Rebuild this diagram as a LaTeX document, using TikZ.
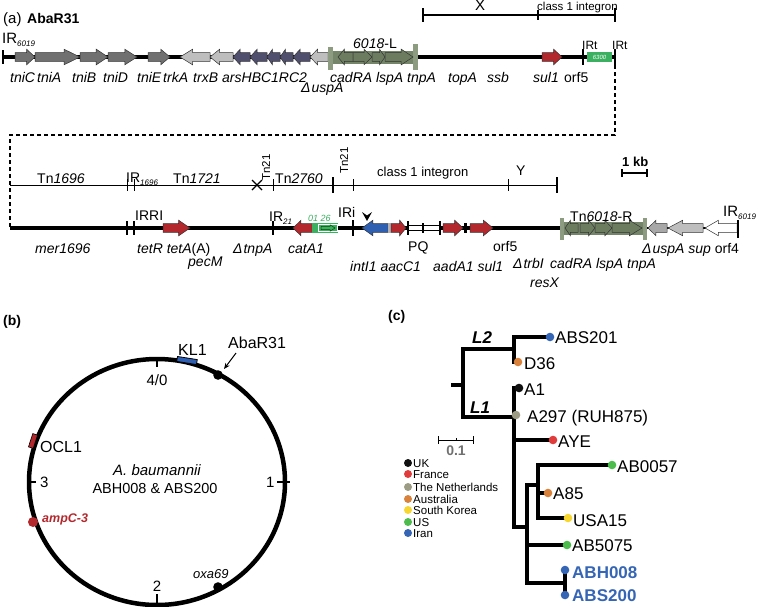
\documentclass[tikz,border=0pt]{standalone}
\usepackage{fontspec}
\setmainfont{Liberation Sans}
\usetikzlibrary{arrows.meta}
\definecolor{tnigray}{HTML}{707070}
\definecolor{lgray}{HTML}{BEBEBE}
\definecolor{mgray}{HTML}{A8A8A8}
\definecolor{navy}{HTML}{50506E}
\definecolor{oliveband}{HTML}{75856A}
\definecolor{olivebar}{HTML}{8D9C80}
\definecolor{olivearr}{HTML}{6C7C5F}
\definecolor{genered}{HTML}{B3282D}
\definecolor{geneblue}{HTML}{2F5FB0}
\definecolor{boxgreen}{HTML}{3BB060}
\definecolor{cUK}{HTML}{111111}
\definecolor{cFR}{HTML}{E03C3C}
\definecolor{cNL}{HTML}{9C9C84}
\definecolor{cAU}{HTML}{D8823C}
\definecolor{cKR}{HTML}{F7D630}
\definecolor{cUS}{HTML}{4CBC4C}
\definecolor{cIR}{HTML}{3565B5}
\definecolor{sbgray}{HTML}{707070}
\newcommand\fsz[1]{\fontsize{#1}{#1}\selectfont}
\newcommand\gar[4]{%
 \pgfmathsetmacro\gLen{#2-(#1)}%
 \pgfmathsetmacro\gHd{min(0.42*abs(\gLen),16)*ifthenelse(\gLen>0,1,-1)}%
 \pgfmathsetmacro\gMid{#2-(\gHd)}%
 \filldraw[fill=#4, draw=black!80, line width=0.5pt] (#1,#3-4.3) -- (\gMid,#3-4.3) -- (\gMid,#3-7.8) -- (#2,#3) -- (\gMid,#3+7.8) -- (\gMid,#3+4.3) -- (#1,#3+4.3) -- cycle;}
\newcommand\irsub[1]{\raisebox{-3pt}{\fsz{8}\itshape #1}}
\tikzset{
 lab/.style={inner sep=0, anchor=base west, font=\fsz{14}},
 gl/.style={lab, font=\fsz{14}\itshape},
 tl/.style={lab, font=\fsz{17}},
 ctr/.style={inner sep=0, anchor=base},
 tree/.style={line width=3.2pt, line cap=rect},
 tick/.style={line width=1.6pt},
}
\begin{document}
\begin{tikzpicture}[x=1pt,y=-1pt]
\useasboundingbox (0,0) rectangle (762,606);
% ---------------- panel (a), top row
\node[lab, font=\fsz{15}] (pa) at (3,23) {(a)};
\node[lab, font=\fsz{14}\bfseries] (abar) at (27,23) {AbaR31};
\node[lab, font=\fsz{15}] (ir1) at (2,43.5) {IR\irsub{6019}};
\draw[line width=3.3pt] (3,57) -- (615,57);
\draw[line width=1.8pt] (3,50) -- (3,64);
\gar{15}{35}{57}{tnigray}
\gar{35}{80}{57}{tnigray}
\gar{80}{108}{57}{tnigray}
\gar{108}{137}{57}{tnigray}
\gar{148}{170}{57}{tnigray}
\gar{210}{180}{57}{lgray}
\gar{233}{210}{57}{lgray}
\gar{250}{233}{57}{navy}
\gar{267}{250}{57}{navy}
\gar{280}{267}{57}{navy}
\gar{293}{280}{57}{navy}
\gar{310}{293}{57}{navy}
\gar{328}{310}{57}{lgray}
\fill[oliveband] (331,51) rectangle (414,64);
\fill[olivebar] (328,47) rectangle (333,70);
\fill[olivebar] (413,44) rectangle (418,70);
\gar{353}{338}{57}{olivearr}
\gar{353}{372}{57}{olivearr}
\gar{372}{385}{57}{olivearr}
\gar{385}{413}{57}{olivearr}
\gar{542}{562}{57}{genered}
\draw[tick] (583,49) -- (583,65);
\draw[tick] (615,49) -- (615,65);
\fill[boxgreen] (587,52) rectangle (612,62);
\node[inner sep=0, font=\fsz{6}\itshape, text=white] (isb) at (599.5,57) {6300};
\node[lab, font=\fsz{12}] (irt1) at (582,49) {IRt};
\node[lab, font=\fsz{12}] (irt2) at (612,49) {IRt};
\node[lab, font=\fsz{14}\itshape] (l6018) at (353,48) {6018\upshape-L};
\foreach \x/\t [count=\i] in {10/tniC,37/tniA,72/tniB,103/tniD,137/tniE,163/trkA,193/trxB,222/arsHBC1RC2,330/cadRA lspA tnpA,448/topA,487/ssb,533/sul1}
  \node[gl] (g\i) at (\x,82) {\t};
\node[lab] (orf5a) at (564,82) {orf5};
\node[gl] (uspa) at (301,92) {Δ\kern1pt uspA};
% scale X
\draw[line width=1.2pt] (423,15) -- (615,15);
\draw[line width=2pt] (423,8) -- (423,22);
\draw[line width=1.2pt] (538,10) -- (538,20);
\draw[line width=2pt] (615,8) -- (615,22);
\node[ctr, font=\fsz{15}] (xl) at (480,10.5) {X};
\node[lab, font=\fsz{11.5}] (ci1) at (537,10.5) {class 1 integron};
% dashed link
\draw[line width=1.3pt, dash pattern=on 4pt off 3pt] (615,65) -- (615,135) -- (10,135) -- (10,228);
% ---------------- panel (a), second row
\draw[line width=1pt] (10,185) -- (557,185);
\foreach \x in {127,134,273,353,508} \draw[line width=1pt] (\x,179) -- (\x,191);
\draw[line width=2.2pt] (333,177) -- (333,193);
\draw[line width=2.2pt] (557,177) -- (557,193);
\draw[line width=1.2pt] (252,180) -- (262,190) (252,190) -- (262,180);
\node[lab] (tn1696) at (37,183) {Tn\textit{1696}};
\node[lab] (ir1696) at (126,182) {IR\irsub{1696}};
\node[lab] (tn1721) at (173,183) {Tn\textit{1721}};
\node[lab, font=\fsz{11.5}, rotate=90] (tn21a) at (270,181) {Tn21};
\node[lab, font=\fsz{11.5}, rotate=90] (tn21b) at (348,174) {Tn21};
\node[lab] (tn2760) at (275,183) {Tn\textit{2760}};
\node[lab, font=\fsz{13}] (ci2) at (377,176) {class 1 integron};
\node[lab] (yl) at (516,175) {Y};
\node[lab, font=\fsz{13}\bfseries] (kb) at (622,166) {1 kb};
\draw[line width=1.3pt] (622,173) -- (647,173);
\draw[line width=1.3pt] (622,169) -- (622,177) (647,169) -- (647,177);
% thick line
\draw[line width=3.5pt] (10,228) -- (647,228);
\draw[line width=2pt] (647,228) -- (738,228);
\foreach \x in {127,134,273} \draw[tick] (\x,221) -- (\x,235);
\draw[line width=2.5pt] (353,220) -- (353,236);
\filldraw[fill=white, draw=black, line width=0.6pt] (408,225.5) rectangle (440,230.5);
\draw[line width=2pt] (408,221) -- (408,235) (440,221) -- (440,235);
\draw[line width=1.5pt] (423,223) -- (423,233);
\draw[line width=3pt] (465,223) -- (465,233);
\gar{163}{190}{228}{genered}
\gar{312}{293}{228}{genered}
\fill[boxgreen] (312,223) rectangle (338,233);
\draw[white, line width=0.8pt] (318,224.2) rectangle (337,231.8);
\filldraw[fill=boxgreen, draw=green!30!black, line width=0.5pt] (321,226.3) -- (330,226.3) -- (330,224.8) -- (335,228) -- (330,231.2) -- (330,229.7) -- (321,229.7) -- cycle;
\gar{388}{362}{228}{geneblue}
\fill[gray!60] (388,223) rectangle (391,233);
\gar{391}{406}{228}{genered}
\gar{443}{463}{228}{genered}
\gar{470}{493}{228}{genered}
\fill (362,212) -- (367,215.5) -- (372,212) -- (367,221) -- cycle;
\fill[oliveband] (563,222) rectangle (644,235);
\fill[olivebar] (560,218) rectangle (564,240);
\fill[olivebar] (643,218) rectangle (647,240);
\gar{578}{565}{228}{olivearr}
\gar{580}{595}{228}{olivearr}
\gar{595}{612}{228}{olivearr}
\gar{612}{642}{228}{olivearr}
\gar{667}{648}{228}{mgray}
\gar{703}{668}{228}{lgray}
\gar{737}{705}{228}{white}
\draw[line width=2pt] (738,220) -- (738,238);
\node[lab] (irri) at (135,220) {IRRI};
\node[lab] (ir21) at (269,221) {IR\irsub{21}};
\node[lab] (iri) at (338,217) {IRi};
\node[lab, font=\fsz{9}\itshape, text=boxgreen] (d126) at (308,221) {01 26};
\node[lab] (tn6018r) at (570,221) {Tn\textit{6018}-R};
\node[lab, font=\fsz{15}] (ir6019b) at (723,216) {IR\irsub{6019}};
\node[gl] (mer) at (35,253) {mer1696};
\node[lab] (tet) at (137,253) {\textit{tetR tetA}(A)};
\node[gl] (pecm) at (188,266) {pecM};
\node[gl] (dtnp) at (233,253) {Δ\kern1pt tnpA};
\node[gl] (cat) at (288,253) {catA1};
\node[lab] (pq) at (408,251) {PQ};
\node[lab] (orf5b) at (493,251) {orf5};
\node[gl] (int) at (350,271) {intI1 aacC1};
\node[gl] (aad) at (433,271) {aadA1 sul1};
\node[gl] (trb) at (513,268) {Δ\kern1pt trbI};
\node[gl] (res) at (530,287) {resX};
\node[gl] (cad2) at (550,268) {cadRA lspA tnpA};
\node[lab] (usp2) at (642,253) {\textit{Δ\kern1pt uspA sup} orf4};
% ---------------- panel (b)
\node[lab, font=\fsz{14}\bfseries] (pb) at (3,325) {(b)};
\draw[line width=4.5pt] (157,482) ellipse [x radius=128, y radius=123];
\draw[tick] (157,358) -- (157,367);
\draw[tick] (277,482) -- (290,482);
\draw[tick] (27,482) -- (36,482);
\draw[tick] (157,594) -- (157,604);
\filldraw[fill=geneblue, draw=black, line width=0.8pt, rotate around={-9:(187,360.5)}] (177,358) rectangle (197,363);
\filldraw[fill=genered, draw=black, line width=0.6pt, rotate around={72:(33,441)}] (26,438.5) rectangle (40,443.5);
\fill (218,375) circle (4.8);
\draw[-{Stealth[length=6pt,width=5pt]}, line width=1pt] (236,353) -- (224,369);
\fill[genered] (33,522) circle (5);
\fill (218,587) circle (4.8);
\node[lab, font=\fsz{16}] (kl1) at (178,355) {KL1};
\node[lab, font=\fsz{16}] (abab) at (228,348) {AbaR31};
\node[ctr, font=\fsz{15}] (t40) at (157,385) {4/0};
\node[lab, font=\fsz{15}] (t1) at (266,487) {1};
\node[lab, font=\fsz{15}] (t3) at (40,487) {3};
\node[ctr, font=\fsz{15}] (t2) at (157,591) {2};
\node[lab, font=\fsz{16}] (ocl) at (40,452) {OCL1};
\node[lab, font=\fsz{12.5}\bfseries\itshape, text=genered] (ampc) at (42,522) {ampC-3};
\node[lab, font=\fsz{13}\itshape] (oxa) at (193,578) {oxa69};
\node[ctr, font=\fsz{15}\itshape] (ab1) at (157,475) {A. baumannii};
\node[ctr, font=\fsz{14.5}] (ab2) at (155,493) {ABH008 \& ABS200};
% ---------------- panel (c)
\node[lab, font=\fsz{14}\bfseries] (pc) at (388,320) {(c)};
\draw[tree] (453,385) -- (463,385);
\draw[tree] (463,349) -- (463,417);
\draw[tree] (463,349) -- (514,349);
\draw[tree] (463,417) -- (514,417);
\draw[tree] (514,337) -- (514,362);
\draw[tree] (514,337) -- (550,337);
\draw[tree] (514,362) -- (518,362);
\draw[tree] (514,388) -- (514,527);
\draw[tree] (514,388) -- (519,388);
\draw[tree] (514,440) -- (553,440);
\draw[tree] (514,527) -- (527,527);
\draw[tree] (527,485) -- (527,583);
\draw[tree] (527,485) -- (538,485);
\draw[tree] (538,465) -- (538,518);
\draw[tree] (538,465) -- (612,465);
\draw[tree] (538,493) -- (548,493);
\draw[tree] (538,518) -- (568,518);
\draw[tree] (527,545) -- (567,545);
\draw[tree] (527,583) -- (565,583);
\draw[tree] (565,570) -- (565,595);
\foreach \p/\c in {{550,337}/cIR,{518,362}/cAU,{519,388}/cUK,{516,415}/cNL,{553,440}/cFR,{612,465}/cUS,{548,493}/cAU,{568,518}/cKR,{567,545}/cUS,{565,570}/cIR,{565,595}/cIR}
  \fill[\c] (\p) circle (4.3);
\node[lab, font=\fsz{17}\bfseries\itshape] (L2) at (472,343) {L2};
\node[lab, font=\fsz{17}\bfseries\itshape] (L1) at (470,413) {L1};
\node[tl] (n1) at (555,343) {ABS201};
\node[tl] (n2) at (524,369) {D36};
\node[tl] (n3) at (524,395) {A1};
\node[tl] (n4) at (527,422) {A297 (RUH875)};
\node[tl] (n5) at (558,447) {AYE};
\node[tl] (n6) at (617,472) {AB0057};
\node[tl] (n7) at (553,499) {A85};
\node[tl] (n8) at (573,526) {USA15};
\node[tl] (n9) at (572,551) {AB5075};
\node[tl, font=\fsz{17}\bfseries, text=cIR] (n10) at (572,578) {ABH008};
\node[tl, font=\fsz{17}\bfseries, text=cIR] (n11) at (572,601) {ABS200};
\draw[line width=1pt] (438,440) -- (473,440) (438,436) -- (438,444) (473,436) -- (473,444) (456,438) -- (456,440);
\node[ctr, font=\fsz{14}\bfseries, text=sbgray] (sb) at (456,455) {0.1};
\foreach \y/\c/\t [count=\i] in {467/cUK/UK,478/cFR/France,491/cNL/The Netherlands,503/cAU/Australia,514/cKR/South Korea,526/cUS/US,537/cIR/Iran}{
  \fill[\c] (408,\y-4) circle (4);
  \node[lab, font=\fsz{11.5}] (lg\i) at (413,\y) {\t};
}
\end{tikzpicture}
\end{document}
